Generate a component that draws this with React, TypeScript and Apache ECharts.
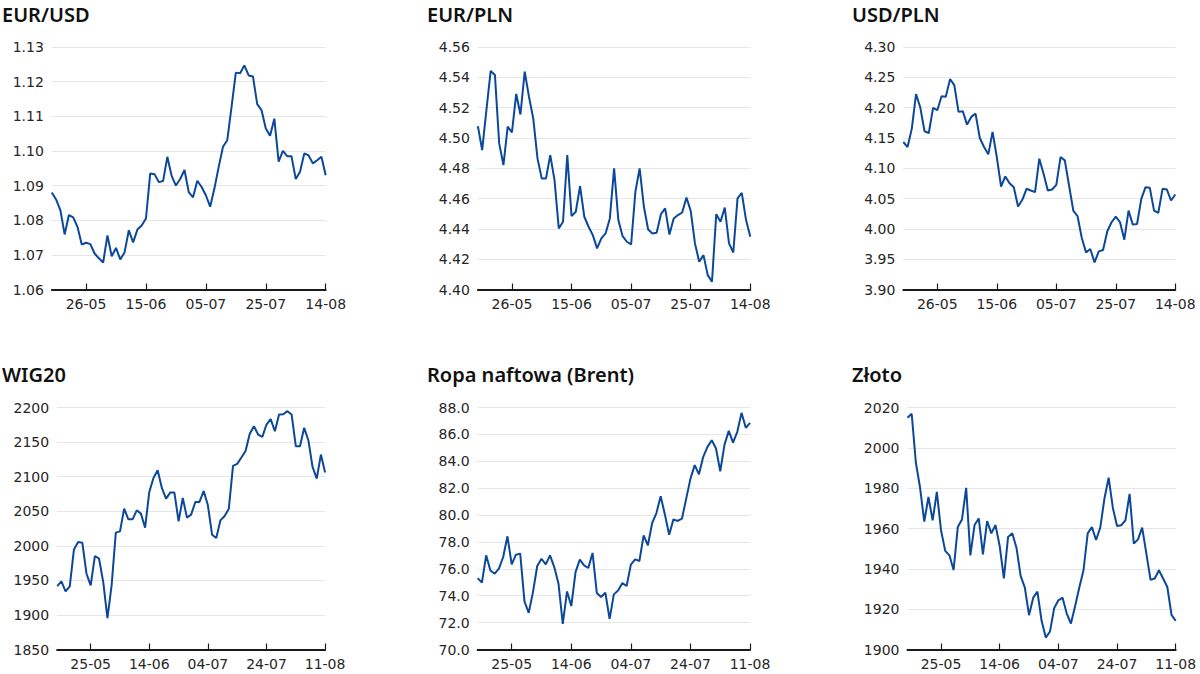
import React, { useEffect, useRef } from "react";
import * as echarts from "echarts";

// Business days shown on the category axes
const datesTop = [
  "16-05","17-05","18-05","19-05","22-05","23-05","24-05","25-05","26-05","29-05","30-05","31-05",
  "01-06","02-06","05-06","06-06","07-06","08-06","09-06","12-06","13-06","14-06","15-06","16-06",
  "19-06","20-06","21-06","22-06","23-06","26-06","27-06","28-06","29-06","30-06",
  "03-07","04-07","05-07","06-07","07-07","10-07","11-07","12-07","13-07","14-07","17-07","18-07",
  "19-07","20-07","21-07","24-07","25-07","26-07","27-07","28-07","31-07",
  "01-08","02-08","03-08","04-08","07-08","08-08","09-08","10-08","11-08","14-08",
];
const datesBottom = [
  "15-05","16-05","17-05","18-05","19-05","22-05","23-05","24-05","25-05","26-05","29-05","30-05","31-05",
  "01-06","02-06","05-06","06-06","07-06","08-06","09-06","12-06","13-06","14-06","15-06","16-06",
  "19-06","20-06","21-06","22-06","23-06","26-06","27-06","28-06","29-06","30-06",
  "03-07","04-07","05-07","06-07","07-07","10-07","11-07","12-07","13-07","14-07","17-07","18-07",
  "19-07","20-07","21-07","24-07","25-07","26-07","27-07","28-07","31-07",
  "01-08","02-08","03-08","04-08","07-08","08-08","09-08","10-08","11-08",
];

const eurusd = [
  1.0880,1.0860,1.0829,1.0759,1.0815,1.0808,1.0781,1.0730,1.0735,1.0731,
  1.0704,1.0690,1.0678,1.0756,1.0696,1.0720,1.0687,1.0707,1.0771,1.0736,
  1.0773,1.0785,1.0805,1.0935,1.0933,1.0910,1.0913,1.0983,1.0928,1.0900,
  1.0919,1.0945,1.0881,1.0866,1.0914,1.0896,1.0872,1.0839,1.0892,1.0954,
  1.1012,1.1031,1.1127,1.1226,1.1224,1.1247,1.1218,1.1215,1.1135,1.1118,
  1.1065,1.1044,1.1093,1.0969,1.1000,1.0985,1.0985,1.0919,1.0940,1.0993,
  1.0987,1.0964,1.0973,1.0983,1.0930,
];
const eurpln = [
  4.5078,4.4920,4.5184,4.5442,4.5415,4.4964,4.4821,4.5074,4.5037,4.5290,
  4.5155,4.5437,4.5272,4.5129,4.4865,4.4733,4.4733,4.4887,4.4722,4.4403,
  4.4447,4.4887,4.4484,4.4513,4.4682,4.4480,4.4414,4.4359,4.4271,4.4337,
  4.4370,4.4469,4.4799,4.4458,4.4352,4.4315,4.4297,4.4645,4.4799,4.4546,
  4.4396,4.4370,4.4374,4.4497,4.4535,4.4363,4.4469,4.4491,4.4508,4.4607,
  4.4519,4.4304,4.4183,4.4227,4.4095,4.4051,4.4497,4.4447,4.4541,4.4304,
  4.4244,4.4601,4.4638,4.4458,4.4348,
];
const usdpln = [
  4.1433,4.1350,4.1654,4.2222,4.2001,4.1610,4.1582,4.1996,4.1957,4.2189,
  4.2178,4.2470,4.2371,4.1930,4.1941,4.1720,4.1847,4.1902,4.1499,4.1350,
  4.1229,4.1599,4.1185,4.0699,4.0865,4.0754,4.0688,4.0368,4.0479,4.0661,
  4.0633,4.0606,4.1157,4.0909,4.0633,4.0650,4.0727,4.1185,4.1130,4.0716,
  4.0302,4.0208,3.9850,3.9612,3.9668,3.9447,3.9629,3.9651,3.9960,4.0109,
  4.0203,4.0109,3.9822,4.0302,4.0070,4.0081,4.0495,4.0688,4.0677,4.0302,
  4.0263,4.0661,4.0650,4.0468,4.0567,
];
const wig20 = [
  1941.7,1948.5,1934.0,1941.2,1994.8,2005.4,2004.5,1959.6,1942.7,1985.2,
  1981.3,1947.5,1895.4,1942.7,2019.0,2020.9,2053.7,2038.3,2038.3,2051.3,
  2046.5,2026.2,2077.9,2098.1,2109.2,2083.7,2068.2,2076.9,2076.9,2035.4,
  2069.2,2040.7,2045.0,2063.4,2063.4,2079.3,2058.5,2016.1,2011.2,2036.8,
  2043.1,2053.7,2115.5,2118.4,2127.6,2137.2,2161.9,2173.0,2160.9,2157.5,
  2175.4,2183.1,2165.7,2189.9,2190.3,2194.7,2189.9,2144.0,2144.0,2170.6,
  2152.7,2114.1,2097.2,2131.9,2105.9,
];
const brent = [
  75.31,74.97,77.00,75.88,75.64,76.01,76.88,78.42,76.33,77.05,
  77.13,73.58,72.73,74.27,76.21,76.75,76.33,77.00,76.13,74.89,
  71.91,74.32,73.23,75.76,76.68,76.26,76.06,77.18,74.20,73.90,
  74.22,72.28,74.10,74.39,74.94,74.72,76.31,76.70,76.58,78.49,
  77.75,79.41,80.15,81.40,80.03,78.54,79.68,79.56,79.73,81.22,
  82.71,83.71,83.03,84.33,85.07,85.57,84.95,83.26,85.24,86.26,
  85.39,86.19,87.60,86.49,86.86,
];
const gold = [
  2014.9,2016.9,1992.6,1980.2,1963.4,1975.6,1964.0,1978.2,1959.1,1948.9,
  1946.7,1939.4,1960.7,1964.5,1980.2,1946.7,1961.7,1965.0,1947.2,1963.7,
  1957.6,1961.7,1951.3,1935.3,1955.8,1957.6,1950.5,1936.5,1930.7,1917.0,
  1925.7,1928.7,1914.2,1905.9,1908.9,1920.5,1924.4,1925.7,1917.8,1912.9,
  1921.6,1930.7,1939.3,1957.6,1960.7,1954.3,1960.4,1974.9,1985.2,1970.3,
  1961.2,1961.6,1964.0,1977.2,1952.5,1954.6,1960.4,1947.5,1934.5,1935.2,
  1939.3,1935.2,1931.0,1917.2,1914.2,
];

const titles = ["EUR/USD", "EUR/PLN", "USD/PLN", "WIG20", "Ropa naftowa (Brent)", "Złoto"];
const yMins = [1.06, 4.4, 3.9, 1850, 70, 1900];
const yMaxs = [1.13, 4.56, 4.3, 2200, 88, 2020];
const yIntervals = [0.01, 0.02, 0.05, 50, 2, 20];
const yDecimals = [2, 2, 2, 0, 1, 0];

const seriesData = [eurusd, eurpln, usdpln, wig20, brent, gold];
const seriesDates = [datesTop, datesTop, datesTop, datesBottom, datesBottom, datesBottom];

// layout (pixels)
const grids = [
  { left: 51.8, top: 47, width: 273.9, height: 242.5 },
  { left: 477.9, top: 47, width: 272.4, height: 242.5 },
  { left: 903.3, top: 47, width: 272.0, height: 242.5 },
  { left: 57.2, top: 407.5, width: 267.9, height: 242 },
  { left: 477.65, top: 407.5, width: 272.4, height: 242 },
  { left: 907.5, top: 407.5, width: 268.2, height: 242 },
];
const titlePos = [
  [2, 14], [427, 14], [852, 14],
  [2, 374], [427, 374], [852, 374],
];

const LINE_COLOR = "#0b4899";
const AXIS_FONT = "'DejaVu Sans', sans-serif";

export default function App() {
  const ref = useRef<HTMLDivElement>(null);

  useEffect(() => {
    if (!ref.current) return;
    const chart = echarts.init(ref.current, undefined, { renderer: "svg" });

    const option: any = {
      animation: false,
      backgroundColor: "#ffffff",
      grid: grids.map((g) => ({ ...g, containLabel: false })),
      xAxis: seriesDates.map((dates, i) => {
        const last = dates.length - 1;
        const show = (idx: number) => (last - idx) % 14 === 0;
        return {
          type: "category",
          gridIndex: i,
          data: dates,
          boundaryGap: false,
          axisLine: { show: true, lineStyle: { color: "#1a1a1a", width: 2 } },
          axisTick: {
            show: true,
            inside: true,
            length: 6,
            interval: (idx: number) => show(idx),
            lineStyle: { color: "#1a1a1a", width: 1.2 },
          },
          axisLabel: {
            interval: (idx: number) => show(idx),
            fontFamily: AXIS_FONT,
            fontSize: 14,
            color: "#262626",
            margin: 7,
          },
          splitLine: { show: false },
        };
      }),
      yAxis: seriesData.map((_, i) => ({
        type: "value",
        gridIndex: i,
        min: yMins[i],
        max: yMaxs[i],
        interval: yIntervals[i],
        axisLine: { show: false },
        axisTick: { show: false },
        axisLabel: {
          fontFamily: AXIS_FONT,
          fontSize: 14,
          color: "#262626",
          margin: 8,
          formatter: (v: number) => v.toFixed(yDecimals[i]),
        },
        splitLine: { show: true, lineStyle: { color: "#e6e6e6", width: 1 } },
      })),
      series: seriesData.map((data, i) => ({
        type: "line",
        xAxisIndex: i,
        yAxisIndex: i,
        data,
        symbol: "none",
        showSymbol: false,
        lineStyle: { color: LINE_COLOR, width: 2 },
        z: 3,
      })),
      graphic: titles.map((t, i) => ({
        type: "text",
        x: titlePos[i][0],
        y: titlePos[i][1],
        style: {
          text: t,
          fontFamily: "'Noto Sans', 'Open Sans', sans-serif",
          fontSize: 20,
          fontWeight: 600,
          fill: "#111111",
          textVerticalAlign: "middle",
          textAlign: "left",
        },
      })),
    };

    chart.setOption(option);
    return () => chart.dispose();
  }, []);

  return (
    <div
      ref={ref}
      style={{ position: "absolute", left: 0, top: 0, width: 1200, height: 674 }}
    />
  );
}
